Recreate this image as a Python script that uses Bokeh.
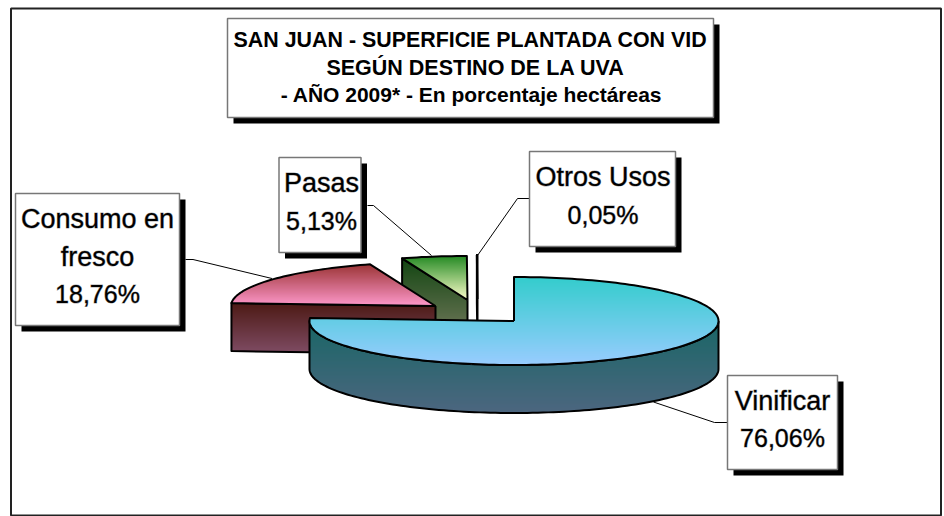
import math
from bokeh.plotting import figure
from bokeh.core.properties import value
from bokeh.embed import file_html
from bokeh.resources import INLINE

# ---- data ----
categories = ["Vinificar", "Consumo en fresco", "Pasas", "Otros Usos"]
shares = [76.06, 18.76, 5.13, 0.05]
title_lines = ["SAN JUAN - SUPERFICIE PLANTADA CON VID",
               "SEGÚN DESTINO DE LA UVA",
               "- AÑO 2009* - En porcentaje hectáreas"]
label_lines = [["Vinificar"], ["Consumo en", "fresco"], ["Pasas"], ["Otros Usos"]]

# ---- layout / style (page pixels) ----
A, B, DEPTH = 204.5, 44.0, 48.0
centres = [(513.5, 320.5), (435.0, 305.5), (467.0, 299.5), (477.0, 298.5)]
top_grad = [("#33cccc", "#99ccff"), ("#993333", "#ff99cc"), ("#228822", "#ffffcc"), ("#ffffff", "#ffffff")]
side_grad = [("#196666", "#4d6680"), ("#4d1a14", "#804d66"), ("#114511", "#808066"), ("#ffffff", "#ffffff")]
boxes = [(727, 837, 375, 469), (15, 179, 193, 325), (278.5, 360.5, 157, 252), (529, 675, 151, 246)]
label_centres = [(782, [400, 437]), (97, [218, 256, 293]), (321, [182, 220]), (602.5, [176, 214])]
leaders = [([727, 714, 653], [422, 422, 401.5]),
           ([185, 192.5, 271.5], [259, 259, 278]),
           ([367, 373, 431], [205, 205, 255]),
           ([529, 517, 477], [198, 198, 255])]
TITLE_BOX = (227, 713, 18, 117)
TITLE_XS, TITLE_YS = [470, 475, 471], [39, 67, 94]
TITLE_SIZES = ["21.4px", "21.5px", "21px"]
SHADOW = 6
FONT = value("Liberation Sans")
W, H = 944, 516

p = figure(width=W, height=H, x_range=(0, W), y_range=(H, 0), output_backend="svg",
           toolbar_location=None, min_border=0, outline_line_color=None, background_fill_color="white",
           border_fill_color="white")
p.axis.visible = False
p.grid.visible = False


def hexrgb(c):
    return tuple(int(c[i:i + 2], 16) for i in (1, 3, 5))


def mix(c0, c1, t):
    a, b = hexrgb(c0), hexrgb(c1)
    return "#%02x%02x%02x" % tuple(round(a[i] + (b[i] - a[i]) * t) for i in range(3))


def ell(cx, cy, deg):
    r = math.radians(deg)
    return cx + A * math.sin(r), cy - B * math.cos(r)


def arc(cx, cy, d0, d1):
    n = max(2, int(abs(d1 - d0) / 1.5) + 2)
    return [ell(cx, cy, d0 + (d1 - d0) * i / (n - 1)) for i in range(n)]


def gradient_fill(poly, c0, c1):
    ys = [q[1] for q in poly]
    y0, y1 = math.floor(min(ys)), math.ceil(max(ys))
    L, R, T, Bt, C = [], [], [], [], []
    m = len(poly)
    for row in range(y0, y1):
        yc = row + 0.5
        xs = []
        for i in range(m):
            (xa, ya), (xb, yb) = poly[i], poly[(i + 1) % m]
            if (ya <= yc) != (yb <= yc):
                xs.append(xa + (yc - ya) / (yb - ya) * (xb - xa))
        xs.sort()
        col = mix(c0, c1, (yc - y0) / max(1, y1 - y0))
        # rows overlap the next one so that antialiased seams stay opaque
        for k in range(0, len(xs) - 1, 2):
            L.append(xs[k]); R.append(xs[k + 1]); T.append(row)
            Bt.append(row + (1.6 if row < y1 - 1 else 1)); C.append(col)
    p.quad(left=L, right=R, top=T, bottom=Bt, fill_color=C, fill_alpha=1.0, line_color=None)


def outline(poly):
    xs = [q[0] for q in poly] + [poly[0][0]]
    ys = [q[1] for q in poly] + [poly[0][1]]
    p.line(xs, ys, line_color="black", line_width=2, line_join="round")


# frame
p.quad(left=[10.5], right=[940.5], top=[8], bottom=[515], fill_color="white", fill_alpha=1.0,
       line_color="#222222", line_width=2)

# slices clockwise from 12 o'clock
total = sum(shares)
starts, acc = [], 0.0
for s in shares:
    starts.append(acc / total * 360)
    acc += s

for i in [3, 2, 1, 0]:  # back to front
    cx, cy = centres[i]
    d0, d1 = starts[i], starts[i] + shares[i] / total * 360
    apex = (cx, cy)
    if i in (1, 2, 3):
        e = ell(cx, cy, d0)
        cut = [apex, e, (e[0], e[1] + DEPTH), (cx, cy + DEPTH)]
        gradient_fill(cut, *side_grad[i])
        outline(cut)
    f0, f1 = max(d0, 90), min(d1, 270)
    if f1 > f0:
        top = arc(cx, cy, f0, f1)
        wall = top + [(x, y + DEPTH) for x, y in reversed(top)]
        gradient_fill(wall, *side_grad[i])
        outline(wall)
    face = [apex] + arc(cx, cy, d0, d1)
    gradient_fill(face, *top_grad[i])
    outline(face)

# leaders
for xs, ys in leaders:
    p.line(xs, ys, line_color="black", line_width=1)


def box(l, r, t, b):
    p.quad(left=[l + SHADOW], right=[r + SHADOW], top=[t + SHADOW], bottom=[b + SHADOW],
           fill_color="black", fill_alpha=1.0, line_color=None)
    p.quad(left=[l], right=[r], top=[t], bottom=[b], fill_color="white", fill_alpha=1.0,
           line_color="#777777", line_width=1.5)


# title
box(*TITLE_BOX)
for line, x, y, fs in zip(title_lines, TITLE_XS, TITLE_YS, TITLE_SIZES):
    p.text(x=[x], y=[y], text=[line], text_font=FONT, text_font_size=fs, text_font_style="bold",
           text_align="center", text_baseline="middle", text_color="#000000")

# data labels
for b, lines, v, (tx, tys) in zip(boxes, label_lines, shares, label_centres):
    box(*b)
    for line, y in zip(lines, tys):
        p.text(x=[tx], y=[y], text=[line], text_font=FONT, text_font_size="27px",
               text_align="center", text_baseline="middle", text_color="#000000",
               text_outline_color="#00000066")
    p.text(x=[tx], y=[tys[-1]], text=[f"{v:.2f}%".replace(".", ",")], text_font=FONT, text_font_size="25px",
           text_align="center", text_baseline="middle", text_color="#000000",
           text_outline_color="#00000066")

open("out.html", "w").write(file_html(p, INLINE))
